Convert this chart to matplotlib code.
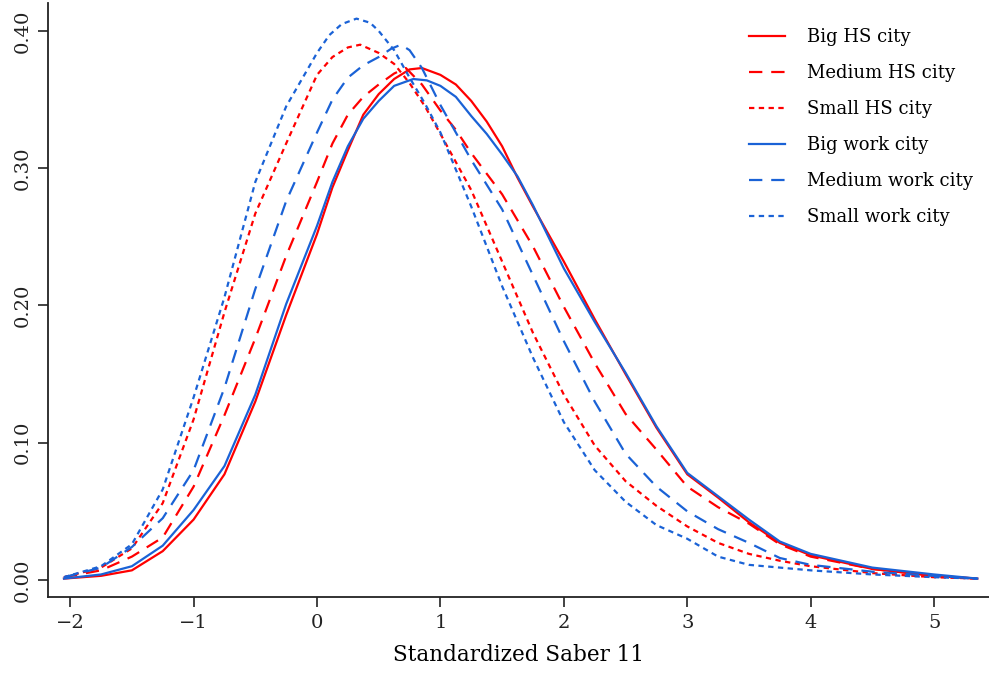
"""
Density of standardized Saber 11 scores by city size
"""
import matplotlib
matplotlib.use('Agg')
from matplotlib import pyplot as plt

# Big HS city
x_big_hs = [-2.05, -1.75, -1.5, -1.25, -1.0, -0.75, -0.5, -0.25, 0.0, 0.125, 0.25, 0.375, 0.5, 0.625, 0.75,
            0.85, 1.0, 1.125, 1.25, 1.375, 1.5, 1.625, 1.75, 2.0, 2.25, 2.5, 2.75, 3.0, 3.25, 3.5, 3.75,
            4.0, 4.5, 5.0, 5.35]
y_big_hs = [0.001, 0.003, 0.007, 0.021, 0.044, 0.077, 0.130, 0.193, 0.252, 0.286, 0.313, 0.339, 0.354, 0.365, 0.372,
            0.373, 0.368, 0.361, 0.349, 0.334, 0.316, 0.293, 0.272, 0.232, 0.190, 0.150, 0.111, 0.077, 0.060, 0.042,
            0.027, 0.018, 0.008, 0.003, 0.001]

# Medium HS city
x_med_hs = [-2.05, -1.75, -1.5, -1.25, -1.0, -0.75, -0.5, -0.25, 0.0, 0.125, 0.25, 0.375, 0.5, 0.625, 0.72,
            0.85, 1.0, 1.125, 1.25, 1.5, 1.75, 2.0, 2.25, 2.5, 2.75, 3.0, 3.25, 3.5, 3.75, 4.0, 4.5, 5.0, 5.35]
y_med_hs = [0.002, 0.007, 0.017, 0.031, 0.068, 0.120, 0.176, 0.236, 0.290, 0.318, 0.339, 0.352, 0.361, 0.369, 0.373,
            0.361, 0.342, 0.328, 0.311, 0.281, 0.243, 0.199, 0.158, 0.121, 0.095, 0.068, 0.053, 0.041, 0.026,
            0.017, 0.008, 0.003, 0.001]

# Small HS city
x_small_hs = [-2.05, -1.75, -1.5, -1.25, -1.0, -0.75, -0.5, -0.25, 0.0, 0.125, 0.25, 0.35, 0.5, 0.625, 0.75,
              0.875, 1.0, 1.25, 1.5, 1.75, 2.0, 2.25, 2.5, 2.75, 3.0, 3.25, 3.5, 3.75, 4.0, 4.5, 5.0, 5.35]
y_small_hs = [0.002, 0.009, 0.023, 0.056, 0.117, 0.195, 0.267, 0.318, 0.368, 0.381, 0.388, 0.390, 0.384, 0.376, 0.362,
              0.345, 0.325, 0.284, 0.232, 0.180, 0.135, 0.098, 0.072, 0.054, 0.039, 0.027, 0.019, 0.014,
              0.010, 0.005, 0.002, 0.001]

# Big work city
x_big_work = [-2.05, -1.75, -1.5, -1.25, -1.0, -0.75, -0.5, -0.25, 0.0, 0.125, 0.25, 0.375, 0.5, 0.625, 0.78,
              0.89, 1.0, 1.125, 1.25, 1.375, 1.5, 1.625, 1.75, 2.0, 2.25, 2.5, 2.75, 3.0, 3.25, 3.5, 3.75,
              4.0, 4.5, 5.0, 5.35]
y_big_work = [0.001, 0.004, 0.010, 0.025, 0.051, 0.083, 0.135, 0.201, 0.258, 0.290, 0.316, 0.336, 0.349, 0.360, 0.365,
              0.364, 0.360, 0.352, 0.338, 0.325, 0.310, 0.294, 0.273, 0.227, 0.188, 0.151, 0.112, 0.078, 0.061,
              0.044, 0.028, 0.019, 0.009, 0.004, 0.001]

# Medium work city
x_med_work = [-2.05, -1.75, -1.5, -1.25, -1.0, -0.75, -0.5, -0.25, 0.0, 0.125, 0.25, 0.375, 0.5, 0.6, 0.68,
              0.75, 0.85, 0.9, 1.0, 1.25, 1.5, 1.75, 2.0, 2.25, 2.5, 2.75, 3.0, 3.25, 3.5, 3.75, 4.0, 4.5,
              5.0, 5.35]
y_med_work = [0.002, 0.009, 0.024, 0.045, 0.080, 0.140, 0.212, 0.276, 0.326, 0.350, 0.366, 0.375, 0.381, 0.387, 0.390,
              0.386, 0.373, 0.364, 0.346, 0.306, 0.270, 0.222, 0.174, 0.130, 0.092, 0.068, 0.050, 0.037, 0.027,
              0.016, 0.011, 0.006, 0.003, 0.001]

# Small work city
x_small_work = [-2.05, -1.75, -1.5, -1.25, -1.0, -0.75, -0.5, -0.25, 0.0, 0.1, 0.2, 0.32, 0.43, 0.5, 0.625,
                0.75, 0.875, 1.0, 1.25, 1.5, 1.75, 2.0, 2.25, 2.5, 2.75, 3.0, 3.25, 3.5, 3.75, 4.0, 4.5, 5.0,
                5.35]
y_small_work = [0.002, 0.010, 0.026, 0.066, 0.133, 0.206, 0.290, 0.345, 0.384, 0.397, 0.405, 0.409, 0.406, 0.400,
                0.386, 0.366, 0.347, 0.326, 0.272, 0.214, 0.162, 0.115, 0.080, 0.057, 0.040, 0.030, 0.017, 0.011,
                0.009, 0.007, 0.004, 0.002, 0.001]

x_ticks = [-2, -1, 0, 1, 2, 3, 4, 5]
y_ticks = [0.0, 0.1, 0.2, 0.3, 0.4]

RED = '#ff0000'
BLUE = '#1a62d6'
DASH = (6, 4)
DOT = (2.4, 2)

plt.rcParams['font.family'] = ['DejaVu Serif']

fig = plt.figure(figsize=(9.89, 6.75), dpi=100)
ax = fig.add_axes([0.0485, 0.1156, 0.9515, 0.88])

series = [
    (x_big_hs, y_big_hs, RED, None, 'Big HS city'),
    (x_med_hs, y_med_hs, RED, DASH, 'Medium HS city'),
    (x_small_hs, y_small_hs, RED, DOT, 'Small HS city'),
    (x_big_work, y_big_work, BLUE, None, 'Big work city'),
    (x_med_work, y_med_work, BLUE, DASH, 'Medium work city'),
    (x_small_work, y_small_work, BLUE, DOT, 'Small work city'),
]
for xs, ys, col, dash, lab in series:
    line, = ax.plot(xs, ys, color=col, lw=1.6, label=lab, solid_joinstyle='round')
    if dash is not None:
        line.set_dashes(dash)

ax.set_xlim(-2.18, 5.445)
ax.set_ylim(-0.0124, 0.4204)
ax.set_xticks(x_ticks)
ax.set_xticklabels(['\u22122', '\u22121', '0', '1', '2', '3', '4', '5'])
ax.set_yticks(y_ticks)
ax.set_yticklabels(['0.00', '0.10', '0.20', '0.30', '0.40'], rotation=90, va='center')
ax.tick_params(direction='out', length=7, width=1.2, labelsize=14, pad=5, colors='#222222')
ax.set_xlabel('Standardized Saber 11', fontsize=15.5, labelpad=9)

for s in ['top', 'right']:
    ax.spines[s].set_visible(False)
for s in ['left', 'bottom']:
    ax.spines[s].set_linewidth(1.3)
    ax.spines[s].set_color('#222222')

ax.legend(loc='upper right', bbox_to_anchor=(1.0, 0.985), frameon=False, fontsize=13,
          handlelength=2.0, handletextpad=1.2, labelspacing=1.0)

fig.savefig('out.png', dpi=100)
